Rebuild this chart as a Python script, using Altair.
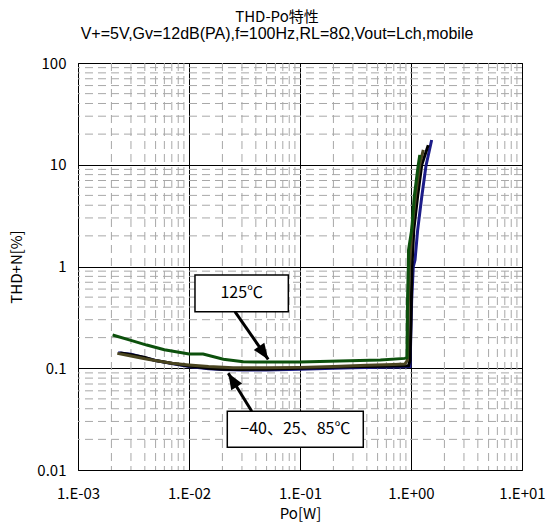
import math
import altair as alt
import pandas as pd

# ---------------- data ----------------
title_text = "THD-Po特性"
subtitle_text = "V+=5V,Gv=12dB(PA),f=100Hz,RL=8Ω,Vout=Lch,mobile"
x_title = "Po[W]"
y_title = "THD+N[%]"

x_tick_values = [0.001, 0.01, 0.1, 1, 10]
x_tick_labels = ["1.E-03", "1.E-02", "1.E-01", "1.E+00", "1.E+01"]
y_tick_values = [0.01, 0.1, 1, 10, 100]
y_tick_labels = ["0.01", "0.1", "1", "10", "100"]

series_names = ["-40℃", "25℃", "85℃", "125℃"]
series_colors = ["#1c1c88", "#000000", "#4a4520", "#0c500c"]

m40_x = [0.0023, 0.003, 0.004, 0.005, 0.007, 0.01, 0.015, 0.02, 0.03, 0.05, 0.1, 0.2, 0.3, 0.5, 0.8,
         0.98, 1.014, 1.049, 1.087, 1.148, 1.25, 1.365, 1.535]
m40_y = [0.142, 0.137, 0.127, 0.119, 0.111, 0.104, 0.099, 0.097, 0.096, 0.096, 0.098, 0.100, 0.101, 0.102, 0.103,
         0.104, 0.47, 1.0, 1.16, 2.28, 4.85, 9.8, 17.5]

p25_x = [0.0024, 0.003, 0.004, 0.005, 0.007, 0.01, 0.015, 0.02, 0.03, 0.05, 0.1, 0.2, 0.4, 0.7,
         0.95, 0.98, 1.0, 1.02, 1.06, 1.15, 1.25, 1.43]
p25_y = [0.141, 0.136, 0.128, 0.119, 0.112, 0.105, 0.100, 0.098, 0.097, 0.098, 0.100, 0.102, 0.104, 0.105,
         0.106, 0.12, 0.3, 1.0, 2.3, 5.0, 10.0, 15.6]

p85_x = [0.00226, 0.003, 0.004, 0.0051, 0.007, 0.01, 0.015, 0.025, 0.05, 0.1, 0.2, 0.4, 0.7,
         0.88, 0.93, 0.95, 0.97, 1.02, 1.1, 1.2, 1.29]
p85_y = [0.140, 0.132, 0.124, 0.1185, 0.112, 0.1077, 0.104, 0.101, 0.101, 0.102, 0.104, 0.107, 0.109,
         0.110, 0.12, 0.5, 1.0, 2.3, 5.0, 10.0, 14.0]

p125_x = [0.00205, 0.003, 0.00416, 0.006, 0.01, 0.0134, 0.0204, 0.0308, 0.0437, 0.1, 0.28, 0.53, 0.88,
          0.92, 0.93, 0.946, 0.95, 1.014, 1.07, 1.16, 1.2]
p125_y = [0.212, 0.188, 0.169, 0.152, 0.138, 0.138, 0.1225, 0.116, 0.115, 0.115, 0.1185, 0.1205, 0.125,
          0.127, 0.47, 0.995, 1.45, 2.28, 4.85, 9.8, 12.5]

series_x = [m40_x, p25_x, p85_x, p125_x]
series_y = [m40_y, p25_y, p85_y, p125_y]

ann_texts = ["125℃", "−40、25、85℃"]
ann_box_x1 = [0.01132, 0.02213]
ann_box_x2 = [0.0785, 0.3716]
ann_box_y1 = [0.825, 0.03776]
ann_box_y2 = [0.3597, 0.01671]
ann_text_x = [0.02985, 0.0908]
ann_text_y = [0.545, 0.02512]
arrow_x1 = [0.02594, 0.03675]
arrow_y1 = [0.3597, 0.03776]
arrow_x2 = [0.0517, 0.02259]
arrow_y2 = [0.122, 0.0892]

# ---------------- layout ----------------
W, H = 444, 407
PX_DEC_X = W / 4.0
PX_DEC_Y = H / 4.0
FONT = "Noto Sans CJK JP"
LATIN = "Liberation Sans"

xscale = alt.Scale(type="log", domain=[0.001, 10], nice=False)
yscale = alt.Scale(type="log", domain=[0.01, 100], nice=False)


def label_expr(values, labels):
    expr = f"'{labels[-1]}'"
    for v, l in reversed(list(zip(values[:-1], labels[:-1]))):
        expr = f"datum.value < {v * 3.1} ? '{l}' : " + expr
    return expr


xaxis = alt.Axis(values=x_tick_values, labelExpr=label_expr(x_tick_values, x_tick_labels),
                 grid=True, gridColor="#000000", gridWidth=1, ticks=False, domain=False,
                 labelFlush=False, labelOverlap=False, labelPadding=16, labelFont=FONT,
                 labelFontSize=15, labelColor="black", title=x_title, titleFont=FONT,
                 titleFontSize=15, titleFontWeight="normal", titleColor="black", titlePadding=5)
yaxis = alt.Axis(values=y_tick_values, labelExpr=label_expr(y_tick_values, y_tick_labels),
                 grid=True, gridColor="#000000", gridWidth=1, ticks=False, domain=False,
                 labelFlush=False, labelOverlap=False, labelPadding=12, labelFont=FONT,
                 labelFontSize=15, labelColor="black", title=y_title, titleFont=FONT,
                 titleFontSize=15, titleFontWeight="normal", titleColor="black", titlePadding=12)

# minor grid positions
minor_x = [m * 10 ** e for e in range(-3, 1) for m in range(2, 10)]
minor_y = [m * 10 ** e for e in range(-2, 2) for m in range(2, 10)]

vgrid = alt.Chart(pd.DataFrame({"x": minor_x})).mark_rule(
    color="#a8a8a8", strokeWidth=1, strokeDash=[8, 5]
).encode(x=alt.X("x:Q", scale=xscale, axis=xaxis))
hgrid = alt.Chart(pd.DataFrame({"y": minor_y})).mark_rule(
    color="#a8a8a8", strokeWidth=1, strokeDash=[8, 5]
).encode(y=alt.Y("y:Q", scale=yscale, axis=yaxis))

layers = [vgrid, hgrid]

for name, col, xs, ys in zip(series_names, series_colors, series_x, series_y):
    df = pd.DataFrame({"x": xs, "y": ys, "order": list(range(len(xs)))})
    layers.append(
        alt.Chart(df).mark_line(color=col, strokeWidth=3, clip=True).encode(
            x=alt.X("x:Q", scale=xscale, axis=xaxis),
            y=alt.Y("y:Q", scale=yscale, axis=yaxis),
            order="order:Q",
        )
    )

# annotations
angles = []
for x1, y1, x2, y2 in zip(arrow_x1, arrow_y1, arrow_x2, arrow_y2):
    dx = PX_DEC_X * math.log10(x2 / x1)
    dy = -PX_DEC_Y * math.log10(y2 / y1)
    a = math.degrees(math.atan2(dx, -dy)) % 360
    angles.append(a)

ann_df = pd.DataFrame({
    "text": ann_texts, "bx1": ann_box_x1, "bx2": ann_box_x2, "by1": ann_box_y1, "by2": ann_box_y2,
    "tx": ann_text_x, "ty": ann_text_y,
})
arr_df = pd.DataFrame({"x1": arrow_x1, "y1": arrow_y1, "x2": arrow_x2, "y2": arrow_y2, "angle": angles})

arrows = alt.Chart(arr_df).mark_rule(color="black", strokeWidth=3).encode(
    x=alt.X("x1:Q", scale=xscale, axis=xaxis), y=alt.Y("y1:Q", scale=yscale, axis=yaxis),
    x2="x2:Q", y2="y2:Q",
)
heads = alt.Chart(arr_df).mark_point(
    shape="M0,0L0.8,2L-0.8,2Z", filled=True, size=256, color="black", opacity=1, strokeWidth=0
).encode(
    x=alt.X("x2:Q", scale=xscale, axis=xaxis), y=alt.Y("y2:Q", scale=yscale, axis=yaxis),
    angle=alt.Angle("angle:Q", scale=None),
)
boxes = alt.Chart(ann_df).mark_rect(fill="white", stroke="black", strokeWidth=1.5).encode(
    x=alt.X("bx1:Q", scale=xscale, axis=xaxis), x2="bx2:Q",
    y=alt.Y("by1:Q", scale=yscale, axis=yaxis), y2="by2:Q",
)
texts = alt.Chart(ann_df).mark_text(font=FONT, fontSize=16, color="black").encode(
    x=alt.X("tx:Q", scale=xscale, axis=xaxis), y=alt.Y("ty:Q", scale=yscale, axis=yaxis),
    text="text:N",
)

layers += [arrows, heads, boxes, texts]

chart = alt.layer(*layers).properties(
    width=W, height=H,
    title=alt.TitleParams(text=title_text, subtitle=subtitle_text, anchor="middle", frame="group",
                          dx=-23, offset=14, font=FONT, fontSize=15, fontWeight="normal",
                          subtitleFont=LATIN, subtitleFontSize=16, color="black",
                          subtitleColor="black", subtitlePadding=1),
    autosize=alt.AutoSizeParams(type="none"),
    padding={"left": 78, "top": 63, "right": 26, "bottom": 54},
    background="white",
).configure_view(stroke="black", strokeWidth=1, fill="white")

chart.save("out.html", embed_options={"renderer": "svg", "actions": False})
